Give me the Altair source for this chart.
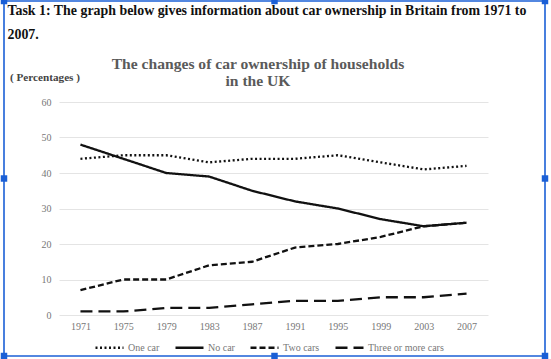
import altair as alt
import pandas as pd

# Survey years and share of households (%) by number of cars
years = [1971, 1975, 1979, 1983, 1987, 1991, 1995, 1999, 2003, 2007]
one_car = [44, 45, 45, 43, 44, 44, 45, 43, 41, 42]
no_car = [48, 44, 40, 39, 35, 32, 30, 27, 25, 26]
two_cars = [7, 10, 10, 14, 15, 19, 20, 22, 25, 26]
three_plus = [1, 1, 2, 2, 3, 4, 4, 5, 5, 6]

series_names = ["One car", "No car", "Two cars", "Three or more cars"]
series_values = [one_car, no_car, two_cars, three_plus]
dash_styles = [[2, 2.5], [1, 0], [6, 3], [12, 6]]

y_ticks = [0, 10, 20, 30, 40, 50, 60]

header_lines = [
    "Task 1: The graph below gives information about car ownership in Britain from 1971 to",
    "2007.",
]
title_lines = ["The changes of car ownership of households", "in the UK"]
y_caption = "( Percentages )"

rows = []
for name, vals in zip(series_names, series_values):
    for yr, v in zip(years, vals):
        rows.append({"year": yr, "series": name, "pct": v})
df = pd.DataFrame(rows)

SERIF = "Liberation Serif"
BLUE = "#1a5fd6"
W, H = 429, 213
PAD = {"left": 59, "top": 102, "right": 63, "bottom": 44}

lines = alt.Chart(df).mark_line(color="#111111", strokeWidth=2.3).encode(
    x=alt.X(
        "year:O",
        title=None,
        axis=alt.Axis(
            labelAngle=0, domain=False, ticks=False, labelFont=SERIF,
            labelFontSize=10, labelColor="#777777", labelPadding=6, grid=False,
        ),
    ),
    y=alt.Y(
        "pct:Q",
        title=None,
        scale=alt.Scale(domain=[0, 60], nice=False),
        axis=alt.Axis(
            values=y_ticks, domain=False, ticks=False, labelFont=SERIF,
            labelFontSize=10, labelColor="#777777", labelPadding=8,
            grid=True, gridColor="#e4e4e4", gridWidth=1,
        ),
    ),
    strokeDash=alt.StrokeDash(
        "series:N",
        scale=alt.Scale(domain=series_names, range=dash_styles),
        legend=alt.Legend(
            title=None, orient="none", legendX=35, legendY=230,
            direction="horizontal", symbolType="stroke", symbolSize=784,
            symbolStrokeWidth=2.3, symbolStrokeColor="#111111",
            labelFont=SERIF, labelFontSize=10, labelColor="#777777",
            columnPadding=10, labelOffset=3,
        ),
    ),
    detail="series:N",
)

dummy = pd.DataFrame({"k": [0]})


def text_mark(txt, x, y, size, color, weight="bold", align="left"):
    return alt.Chart(dummy).mark_text(
        text=txt, font=SERIF, fontSize=size, fontWeight=weight, color=color,
        align=align, baseline="middle",
    ).encode(x=alt.value(x), y=alt.value(y))


texts = [
    text_mark(header_lines[0], -51.5, -91.5, 13.9, "#111111"),
    text_mark(header_lines[1], -51.5, -67.5, 13.9, "#111111"),
    text_mark(title_lines[0], 199, -38.5, 15.6, "#5a5a5a", align="center"),
    text_mark(title_lines[1], 199, -21.5, 15.6, "#5a5a5a", align="center"),
    text_mark(y_caption, -49, -24.5, 11.2, "#444444"),
]

# selection frame around the figure (relative to the plot origin)
L, R, T, B = 4 - 59, 545 - 59, 1 - 102, 356 - 102


def rule(x1, x2, y1, y2):
    return alt.Chart(dummy).mark_rule(color=BLUE, strokeWidth=1.6).encode(
        x=alt.value(x1), x2=alt.value(x2), y=alt.value(y1), y2=alt.value(y2)
    )


frame = [
    rule(L, R, T, T),
    rule(L, R, B, B),
    rule(L, L, T, B),
    rule(R, R, T, B),
]

mx, my = (L + R) / 2, (T + B) / 2
handles = [
    alt.Chart(dummy).mark_square(color=BLUE, size=42, opacity=1, filled=True)
    .encode(x=alt.value(hx), y=alt.value(hy))
    for hx, hy in [(L, T), (mx, T), (R, T), (L, my), (R, my), (L, B), (mx, B), (R, B)]
]

chart = alt.layer(lines, *texts, *frame, *handles).properties(
    width=W, height=H, padding=PAD, autosize=alt.AutoSizeParams(type="none"),
    background="white",
).configure_view(stroke=None)

chart.save("out.html", embed_options={"renderer": "svg", "actions": False})
